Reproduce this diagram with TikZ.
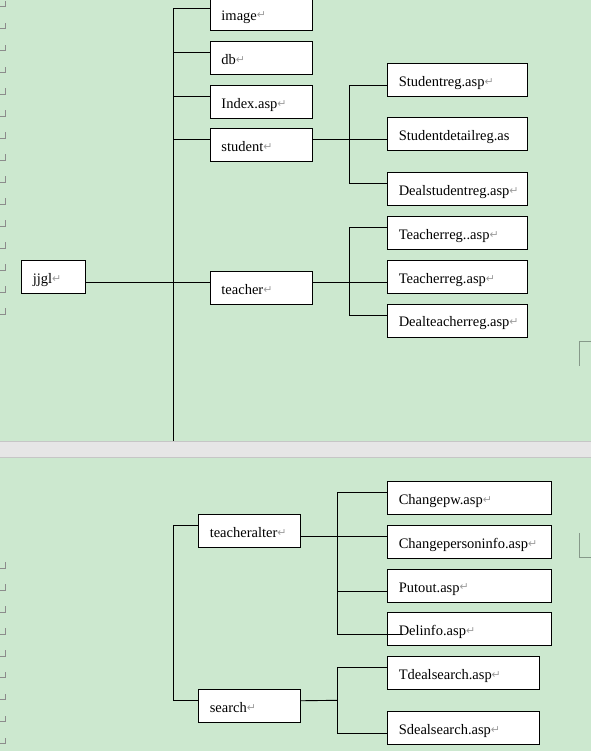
\documentclass[tikz,border=0pt]{standalone}
\usepackage{fontspec}
\usepackage{tikz}
\setmainfont{Liberation Serif}
\newfontfamily\symfont{DejaVu Sans}
\definecolor{bggreen}{HTML}{CCE8CF}
\definecolor{bandgray}{HTML}{E6E6E6}
\definecolor{bandline}{HTML}{C6C6C6}
\definecolor{markgray}{HTML}{8C8C8C}
\definecolor{cornergray}{HTML}{86998A}
\definecolor{retgray}{HTML}{9E9E9E}
\newcommand{\retmark}{\raisebox{1.5pt}{\color{retgray}\symfont\fontsize{11}{11}\selectfont ↵}}
\tikzstyle{box}=[draw=black, fill=white, line width=0.9pt, anchor=north west, minimum height=33pt, inner xsep=11pt, inner ysep=0pt, text height=14pt, text depth=1pt, align=left, font=\fontsize{14.5}{16}\selectfont]
\tikzstyle{dirbox}=[box, text width=79.5pt]
\tikzstyle{rootbox}=[box, text width=41.4pt]
\tikzstyle{pagebox}=[box, text width=117.4pt]
\tikzstyle{widebox}=[box, text width=142pt]
\tikzstyle{midbox}=[box, text width=130pt]
\tikzstyle{link}=[draw=black, line width=0.9pt]

\begin{document}
\begin{tikzpicture}[x=1pt, y=-1pt]
	\useasboundingbox[fill=bggreen] (0,0) rectangle (591,751);
	\fill[bandgray] (0,441.3) rectangle (591,457);
	\path[draw=bandline] (0,441.3) -- (591,441.3) (0,457) -- (591,457);
	\foreach \i in {0,...,14}
		\path[draw=markgray, line width=0.8pt] (0,6.7+21.95*\i) -- (5.5,6.7+21.95*\i) -- (5.5,0.7+21.95*\i);
	\foreach \i in {0,...,8}
		\path[draw=markgray, line width=0.8pt] (0,568.3+21.9*\i) -- (5.5,568.3+21.9*\i) -- (5.5,562.3+21.9*\i);
	\path[draw=cornergray, line width=0.9pt] (591,341.7) -- (579.3,341.7) -- (579.3,365.7);
	\path[draw=cornergray, line width=0.9pt] (579.3,533.3) -- (579.3,557.3) -- (591,557.3);

	\node[rootbox] (jjgl) at (21.3,260.3) {jjgl\retmark};
	\node[dirbox] (image) at (210,-3) {image\retmark};
	\node[dirbox] (db) at (210,41.3) {db\retmark};
	\node[dirbox] (index) at (210,85.3) {Index.asp\retmark};
	\node[dirbox] (student) at (210,128.3) {student\retmark};
	\node[dirbox] (teacher) at (210,271.3) {teacher\retmark};
	\node[pagebox] (sreg) at (387.3,63.3) {Studentreg.asp\retmark};
	\node[pagebox] (sdetail) at (387.3,117.3) {Studentdetailreg.as};
	\node[pagebox] (dealstu) at (387.3,172.3) {Dealstudentreg.asp\retmark};
	\node[pagebox] (treg2) at (387.3,216.3) {Teacherreg..asp\retmark};
	\node[pagebox] (treg) at (387.3,260.3) {Teacherreg.asp\retmark};
	\node[pagebox] (dealtea) at (387.3,303.5) {Dealteacherreg.asp\retmark};
	\node[dirbox] (talter) at (198.3,514.3) {teacheralter\retmark};
	\node[dirbox] (search) at (198.3,689.3) {search\retmark};
	\node[widebox] (chpw) at (387.3,481.3) {Changepw.asp\retmark};
	\node[widebox] (chinfo) at (387.3,525.3) {Changepersoninfo.asp\retmark};
	\node[widebox] (putout) at (387.3,568.7) {Putout.asp\retmark};
	\node[widebox] (delinfo) at (387.3,612.3) {Delinfo.asp\retmark};
	\node[midbox] (tdeal) at (387.3,656.3) {Tdealsearch.asp\retmark};
	\node[midbox] (sdeal) at (387.3,711.3) {Sdealsearch.asp\retmark};

	\coordinate (trunk) at (173.3,440.7);
	\coordinate (sbar) at (349.3,139.3);
	\coordinate (tbar) at (349.3,282.3);
	\coordinate (lbar) at (173.3,612.8);
	\coordinate (abar) at (337.3,536.3);
	\coordinate (qbar) at (337.3,700.3);

	\foreach \n in {image,db,index,student,teacher}
		\path[link] (trunk) |- ([yshift=5.5pt]\n.west);
	\path[link] ([yshift=-5.5pt]jjgl.east) -- ([yshift=5.5pt]teacher.west);
	\path[link] ([yshift=5.5pt]student.east) -- ([yshift=-5.5pt]sdetail.west);
	\path[link] ([yshift=-5.5pt]sreg.west) -| (sbar) |- ([yshift=5.5pt]dealstu.west);
	\path[link] ([yshift=5.5pt]teacher.east) -- ([yshift=-5.5pt]treg.west);
	\path[link] ([yshift=5.5pt]treg2.west) -| (tbar) |- ([yshift=5.5pt]dealtea.west);
	\path[link] ([yshift=5.5pt]talter.west) -| (lbar) |- ([yshift=5.5pt]search.west);
	\path[link] ([yshift=-5.5pt]talter.east) -- ([yshift=5.5pt]chinfo.west);
	\path[link] ([yshift=5.5pt]chpw.west) -| (abar) |- ([xshift=16pt,yshift=-5.5pt]delinfo.west);
	\path[link] (abar) |- ([yshift=-5.5pt]putout.west);
	\path[link] ([yshift=5.5pt]search.east) -- (qbar);
	\path[link] ([yshift=5.5pt]tdeal.west) -| (qbar) |- ([yshift=-5.5pt]sdeal.west);
\end{tikzpicture}
\end{document}
